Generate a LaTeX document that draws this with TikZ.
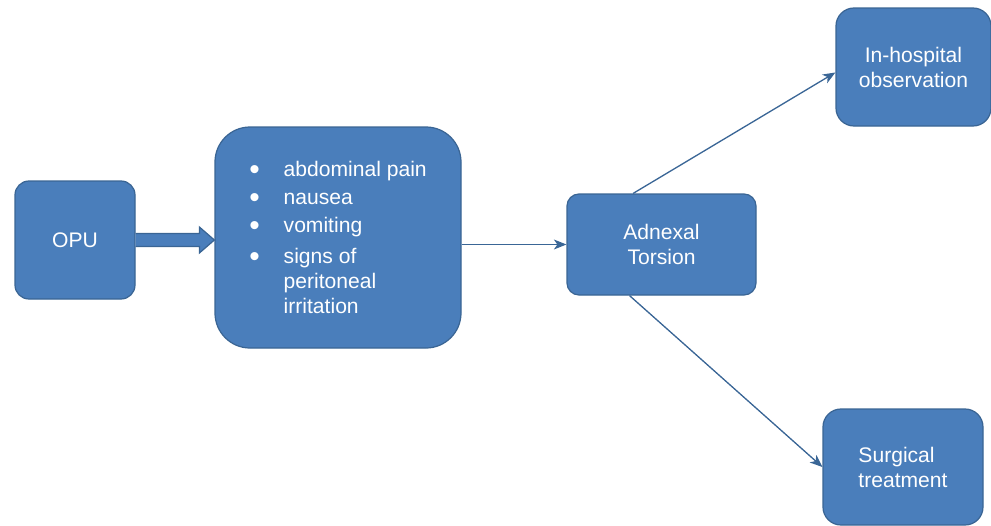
\documentclass[tikz,border=0pt]{standalone}
\usepackage{fontspec}
\setmainfont{Liberation Sans}
\usetikzlibrary{arrows.meta, positioning, calc}
\definecolor{boxfill}{HTML}{4A7EBB}
\definecolor{boxline}{HTML}{3A6594}
\definecolor{arrline}{HTML}{3A6696}
\newcommand{\bigdot}{\raisebox{-1.8pt}{\fontsize{17}{14}\selectfont\textbullet}}

\begin{document}
\begin{tikzpicture}[
        font=\fontsize{12}{14.2}\selectfont,
        box/.style={draw=boxline, line width=0.7pt, fill=boxfill, text=white, align=center},
        arr/.style={-{Stealth[length=0.25cm, width=0.2cm, inset=0.07cm]}, draw=arrline, line width=0.75pt},
        blockarr/.style={draw=boxline, line width=0.7pt, fill=boxfill, line join=miter}
    ]
        \useasboundingbox (0,0) rectangle (19.82,-10.5);

        \node[box, rounded corners=0.28cm, minimum width=2.4cm, minimum height=2.36cm] (opu) at (1.5,-4.8) {OPU};
        \node[box, rounded corners=0.7cm, minimum width=4.92cm, minimum height=4.42cm] (sym) at (6.76,-4.75) {%
            \begin{tabular}{@{}c@{\hspace{0.48cm}}l@{}}
                \bigdot & \rule{0pt}{12.8pt}abdominal pain\\[1.7pt]
                \bigdot & nausea\\[1.7pt]
                \bigdot & vomiting\\[3.6pt]
                \bigdot & signs of\\
                        & peritoneal\\
                        & irritation
            \end{tabular}};
        \node[box, rounded corners=0.24cm, minimum width=3.78cm, minimum height=2.02cm] (tor) at (13.23,-4.89) {Adnexal\\Torsion};
        \node[box, rounded corners=0.36cm, minimum width=3.1cm, minimum height=2.36cm] (obs) at (18.27,-1.34) {In-hospital\\observation};
        \node[box, rounded corners=0.36cm, minimum width=3.2cm, minimum height=2.32cm, align=left] (surg) at (18.06,-9.34) {Surgical\\treatment};

        % block arrow OPU -> symptoms
        \coordinate (tip) at (sym.west |- opu.east);
        \draw[blockarr] ($(opu.east)+(0,0.13)$) -- ($(tip)+(-0.3,0.13)$) -- ($(tip)+(-0.3,0.26)$) -- (tip)
            -- ($(tip)+(-0.3,-0.26)$) -- ($(tip)+(-0.3,-0.13)$) -- ($(opu.east)+(0,-0.13)$);

        \draw[arr] (sym.east |- tor.west) -- (tor.west);
        \draw[arr] (tor.119) -- (obs.184);
        \draw[arr] (tor.238) -- (surg.west);
    \end{tikzpicture}
\end{document}
